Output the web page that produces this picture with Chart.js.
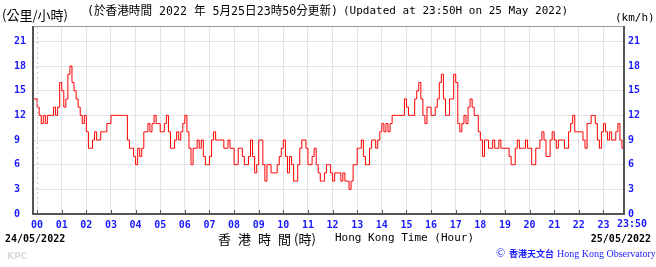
<!DOCTYPE html>
<html>
<head>
<meta charset="utf-8">
<script src="https://cdn.jsdelivr.net/npm/chart.js@4/dist/chart.umd.min.js"></script>
<style>
  html, body { margin: 0; padding: 0; background: #fff; overflow: hidden; }
  #wrap { position: relative; width: 656px; height: 267px; }
</style>
</head>
<body>
<div id="wrap"><canvas id="windChart" width="656" height="267"></canvas></div>
<script>
// tick labels
const yTicks = [0, 3, 6, 9, 12, 15, 18, 21];
const hourLabels = ['00', '01', '02', '03', '04', '05', '06', '07', '08', '09', '10', '11',
                    '12', '13', '14', '15', '16', '17', '18', '19', '20', '21', '22', '23'];
const endLabel = '23:50';
const endMinute = 1430;

// 10-min mean wind (km/h), one value every 5 minutes from 23:50 of 24/05
const startMinute = -10;
const stepMinutes = 5;
const windSpeed = [
  14, 14,
  13, 12, 11, 12, 11, 12, 12, 12, 13, 12, 13, 16,   // 00
  15, 13, 14, 17, 18, 16, 15, 14, 13, 12, 11, 12,   // 01
  10, 8, 8, 9, 10, 9, 9, 10, 10, 10, 11, 11,        // 02
  12, 12, 12, 12, 12, 12, 12, 12, 9, 8, 8, 7,       // 03
  6, 8, 7, 8, 10, 10, 11, 10, 11, 12, 11, 11,       // 04
  10, 10, 11, 12, 10, 8, 8, 9, 10, 9, 10, 11,       // 05
  12, 10, 8, 6, 8, 8, 9, 8, 9, 7, 6, 6,             // 06
  7, 9, 10, 9, 9, 9, 9, 8, 8, 9, 8, 8,              // 07
  6, 6, 8, 8, 7, 6, 6, 7, 9, 7, 5, 6,               // 08
  9, 9, 6, 4, 6, 6, 5, 5, 5, 6, 7, 8,               // 09
  9, 7, 5, 7, 6, 4, 4, 6, 8, 9, 9, 8,               // 10
  6, 6, 7, 8, 6, 5, 4, 4, 5, 6, 6, 5,               // 11
  4, 5, 5, 5, 4, 5, 4, 4, 3, 4, 6, 6,               // 12
  8, 8, 9, 7, 6, 6, 8, 9, 9, 8, 9, 10,              // 13
  11, 10, 11, 10, 11, 12, 12, 12, 12, 12, 12, 14,   // 14
  13, 12, 12, 12, 14, 15, 16, 14, 12, 11, 13, 13,   // 15
  12, 12, 13, 14, 16, 17, 14, 12, 12, 14, 14, 17,   // 16
  16, 11, 10, 11, 12, 11, 13, 14, 13, 12, 12, 10,   // 17
  9, 7, 9, 9, 8, 8, 9, 8, 8, 9, 8, 8,               // 18
  8, 8, 7, 6, 6, 8, 9, 8, 8, 8, 9, 8,               // 19
  8, 6, 6, 8, 8, 9, 10, 9, 7, 7, 9, 10,             // 20
  9, 8, 9, 9, 9, 8, 8, 10, 11, 12, 10, 10,          // 21
  10, 10, 9, 8, 11, 11, 12, 12, 11, 9, 8, 10,       // 22
  11, 10, 9, 10, 9, 9, 10, 11, 9, 8, 9              // 23
];

const BLUE = '#1a1aff';
const MONO = '"DejaVu Sans Mono", "Liberation Mono", monospace';
const CJK = '"Noto Sans CJK TC", "Noto Sans CJK SC", sans-serif';

const points = windSpeed.map((v, i) => ({ x: startMinute + i * stepMinutes, y: v }));

const decor = {
  id: 'decor',
  afterDatasetsDraw(chart) {
    const { ctx, chartArea: a, scales: { x } } = chart;
    ctx.save();
    // dotted line at 00:00
    const x0 = Math.round(x.getPixelForValue(0)) + 0.5;
    ctx.strokeStyle = '#c8c8c8';
    ctx.lineWidth = 1;
    ctx.setLineDash([2, 3]);
    ctx.beginPath();
    ctx.moveTo(x0, a.top);
    ctx.lineTo(x0, a.bottom);
    ctx.stroke();
    ctx.setLineDash([]);
    // little hour ticks inside the bottom axis
    ctx.strokeStyle = '#555';
    hourLabels.forEach((_, i) => {
      const px = Math.round(x.getPixelForValue(i * 60)) + 0.5;
      ctx.beginPath();
      ctx.moveTo(px, a.bottom - 4);
      ctx.lineTo(px, a.bottom);
      ctx.stroke();
    });
    // frame
    ctx.fillStyle = '#999';
    ctx.fillRect(a.left, a.top - 1, a.right - a.left, 1);
    ctx.fillStyle = '#555';
    ctx.fillRect(a.left - 1, a.top - 1, 2, a.bottom - a.top + 2);
    ctx.fillRect(a.right - 1, a.top - 1, 2, a.bottom - a.top + 2);
    ctx.fillRect(a.left - 1, a.bottom - 1, a.right - a.left + 2, 2);
    ctx.restore();
  },
  afterDraw(chart) {
    const { ctx, scales: { x } } = chart;
    ctx.save();
    ctx.textBaseline = 'middle';
    ctx.fillStyle = '#000';
    ctx.font = '13px ' + CJK;
    ctx.fillText('(公里/小時)', 2, 15);
    ctx.font = '12px ' + MONO + ', ' + CJK;
    ctx.fillText('(於香港時間 2022 年 5月25日23時50分更新)', 87, 12, 251);
    ctx.font = '11px ' + MONO;
    ctx.fillText('(Updated at 23:50H on 25 May 2022)', 343, 11);
    ctx.fillText('(km/h)', 615, 18);

    ctx.fillStyle = BLUE;
    ctx.font = 'bold 10px ' + MONO;
    ctx.textAlign = 'center';
    ctx.fillText(endLabel, x.getPixelForValue(endMinute) + 8, 224);

    ctx.fillStyle = '#000';
    ctx.textAlign = 'left';
    ctx.fillText('24/05/2022', 5, 239);
    ctx.textAlign = 'right';
    ctx.fillText('25/05/2022', 651, 239);

    ctx.textAlign = 'left';
    ctx.font = '13px ' + CJK;
    ['香', '港', '時', '間'].forEach((ch, i) => ctx.fillText(ch, 218 + i * 20, 239));
    ctx.fillText('(時)', 294, 239);
    ctx.font = '11px ' + MONO;
    ctx.fillText('Hong Kong Time (Hour)', 335, 238);

    ctx.fillStyle = BLUE;
    ctx.font = '12px "Liberation Serif", serif';
    ctx.fillText('©', 496, 254);
    ctx.font = 'bold 9px ' + CJK;
    ctx.fillText('香港天文台', 509, 254);
    ctx.font = '10px "Liberation Serif", serif';
    ctx.fillText('Hong Kong Observatory', 557, 254);

    ctx.fillStyle = '#dcdcdc';
    ctx.font = 'bold 9px "DejaVu Sans", sans-serif';
    ctx.fillText('KPC', 7, 257);
    ctx.restore();
  }
};

const yAxisBase = {
  min: 0,
  max: 22.75,
  afterBuildTicks: s => { s.ticks = yTicks.map(v => ({ value: v })); },
  border: { display: false },
  ticks: { color: BLUE, font: { family: MONO, size: 10, weight: 'bold' } }
};

new Chart(document.getElementById('windChart'), {
  type: 'line',
  data: {
    datasets: [{
      data: points,
      borderColor: '#ff0000',
      borderWidth: 1,
      pointRadius: 0,
      stepped: true,
      fill: false,
      yAxisID: 'y'
    }]
  },
  options: {
    responsive: false,
    devicePixelRatio: 1,
    animation: false,
    layout: { padding: { left: 14, top: 27, right: 0, bottom: 0 } },
    plugins: { legend: { display: false }, tooltip: { enabled: false } },
    scales: {
      x: {
        type: 'linear',
        min: startMinute,
        max: endMinute,
        afterBuildTicks: s => {
          s.ticks = hourLabels.map((_, i) => ({ value: i * 60 })).concat([{ value: endMinute }]);
        },
        afterFit: s => { s.height = 53; },
        border: { display: false },
        grid: {
          color: c => (c.tick && c.tick.value === 0) ? 'rgba(0,0,0,0)' : '#e4e4e4',
          drawTicks: false
        },
        ticks: {
          padding: 5,
          autoSkip: false,
          maxRotation: 0,
          color: BLUE,
          font: { family: MONO, size: 10, weight: 'bold' },
          callback: v => (v % 60 === 0 ? hourLabels[v / 60] : '')
        }
      },
      y: {
        ...yAxisBase,
        position: 'left',
        afterFit: s => { s.width = 19; },
        grid: { color: '#e4e4e4', drawTicks: false },
        ticks: { ...yAxisBase.ticks, crossAlign: 'far', padding: 0 }
      },
      y2: {
        ...yAxisBase,
        display: true,
        position: 'right',
        afterFit: s => { s.width = 32; },
        grid: { drawOnChartArea: false, drawTicks: false },
        ticks: { ...yAxisBase.ticks, padding: 4 }
      }
    }
  },
  plugins: [decor]
});
</script>
</body>
</html>
